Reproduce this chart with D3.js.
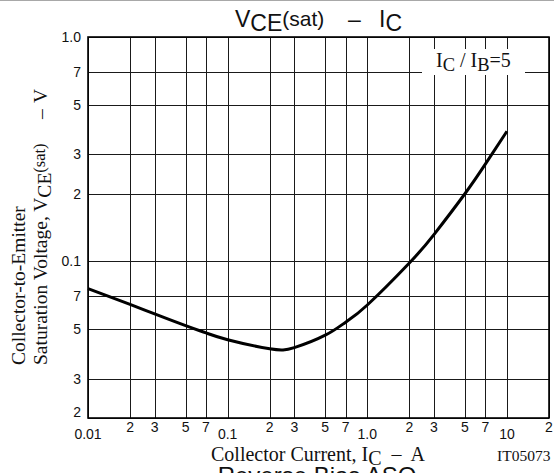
<!DOCTYPE html>
<html>
<head>
<meta charset="utf-8">
<script src="https://d3js.org/d3.v7.min.js"></script>
<style>
  body { margin: 0; background: #fff; }
  svg { display: block; }
  text { white-space: pre; }
  .sans { font-family: "Liberation Sans", Arial, sans-serif; }
  .serif { font-family: "Liberation Serif", "Times New Roman", serif; }
</style>
</head>
<body>
<div id="chart"></div>
<script>
// collector current (A) and saturation voltage (V)
const icValues  = [0.01, 0.02, 0.03, 0.05, 0.07, 0.1, 0.2, 0.3, 0.5, 0.7, 1.0, 2, 3, 5, 7, 10];
const vceValues = [0.0755, 0.0642, 0.0582, 0.0516, 0.0479, 0.0447, 0.0407, 0.0412, 0.0468, 0.0535, 0.0638, 0.0982, 0.1315, 0.2, 0.271, 0.38];

const xTicks = [0.01, 0.02, 0.03, 0.05, 0.07, 0.1, 0.2, 0.3, 0.5, 0.7, 1, 2, 3, 5, 7, 10, 20];
const xTickLabels = ["0.01", "2", "3", "5", "7", "0.1", "2", "3", "5", "7", "1.0", "2", "3", "5", "7", "10", "2"];
const yTicks = [1.0, 0.7, 0.5, 0.3, 0.2, 0.1, 0.07, 0.05, 0.03, 0.02];
const yTickLabels = ["1.0", "7", "5", "3", "2", "0.1", "7", "5", "3", "2"];

const W = 554, H = 473;
const plot = {left: 88, right: 549, top: 37, bottom: 418};

const svg = d3.select("#chart").append("svg")
    .attr("width", W)
    .attr("height", H);

// thin grey rule along the very top of the page
svg.append("line")
    .attr("x1", 0).attr("x2", W).attr("y1", 0.5).attr("y2", 0.5)
    .attr("stroke", "#a8a8a8").attr("stroke-width", 1.2);

const x = d3.scaleLog().domain([0.01, 20]).range([plot.left, plot.right]);
const y = d3.scaleLog().domain([0.02, 1.0]).range([plot.bottom, plot.top]);

const isDecade = v => Math.abs(Math.log10(v) - Math.round(Math.log10(v))) < 1e-9;

// grid
const grid = svg.append("g").attr("stroke", "#1a1a1a").attr("stroke-width", 1)
    .attr("shape-rendering", "crispEdges");
grid.selectAll(".vx").data(xTicks).join("line")
    .attr("x1", d => Math.round(x(d)) + 0.5).attr("x2", d => Math.round(x(d)) + 0.5)
    .attr("y1", plot.top).attr("y2", plot.bottom);
grid.selectAll(".hy").data(yTicks).join("line")
    .attr("y1", d => Math.round(y(d)) + 0.5).attr("y2", d => Math.round(y(d)) + 0.5)
    .attr("x1", plot.left).attr("x2", plot.right);

// label box hides the grid behind it
svg.append("rect")
    .attr("x", 422).attr("y", 49).attr("width", 103).attr("height", 26)
    .attr("fill", "#fff");
const note = svg.append("text").attr("class", "serif")
    .attr("x", 436).attr("y", 67).attr("font-size", 20).attr("fill", "#111");
note.append("tspan").text("I");
note.append("tspan").attr("font-size", 18.5).attr("dy", 4).text("C");
note.append("tspan").attr("dy", -4).text(" / I");
note.append("tspan").attr("font-size", 18.5).attr("dy", 4).text("B");
note.append("tspan").attr("dy", -4).text("=5");

// frame
svg.append("rect")
    .attr("x", plot.left).attr("y", plot.top)
    .attr("width", plot.right - plot.left).attr("height", plot.bottom - plot.top)
    .attr("fill", "none").attr("stroke", "#000").attr("stroke-width", 1.6);

// curve
const pts = icValues.map((v, i) => [v, vceValues[i]]);
const line = d3.line()
    .x(d => x(d[0]))
    .y(d => y(d[1]))
    .curve(d3.curveNatural);
svg.append("path")
    .datum(pts)
    .attr("d", line)
    .attr("fill", "none")
    .attr("stroke", "#000")
    .attr("stroke-width", 3)
    .attr("stroke-linecap", "butt");

// y tick labels
svg.append("g").attr("class", "sans").attr("font-size", 14).attr("fill", "#111")
  .selectAll("text").data(yTicks).join("text")
    .attr("x", 81)
    .attr("y", (d, i) => y(d) + (i === yTicks.length - 1 ? -1 : 5))
    .attr("text-anchor", "end")
    .text((d, i) => yTickLabels[i]);

// x tick labels
svg.append("g").attr("class", "sans").attr("font-size", 14).attr("fill", "#111")
  .selectAll("text").data(xTicks).join("text")
    .attr("x", d => x(d))
    .attr("y", d => isDecade(d) ? 439 : 432)
    .attr("text-anchor", "middle")
    .text((d, i) => xTickLabels[i]);

// title
const title = svg.append("text").attr("class", "sans")
    .attr("x", 235).attr("y", 27).attr("font-size", 23).attr("fill", "#111");
title.append("tspan").text("V");
title.append("tspan").attr("dy", 4).text("CE");
title.append("tspan").attr("dy", -5).attr("font-size", 21).text("(sat)");
title.append("tspan").attr("x", 348).attr("dy", 1).text("–");
title.append("tspan").attr("x", 379).text("I");
title.append("tspan").attr("dy", 4).text("C");

// y axis title (two lines)
svg.append("text").attr("class", "serif")
    .attr("transform", "translate(25,365) rotate(-90)")
    .attr("font-size", 19.5).attr("fill", "#111")
    .text("Collector-to-Emitter");
const yl2 = svg.append("text").attr("class", "serif")
    .attr("transform", "translate(47,365) rotate(-90)")
    .attr("font-size", 19.5).attr("fill", "#111");
yl2.append("tspan").text("Saturation Voltage, V");
yl2.append("tspan").attr("dy", 4).text("CE");
yl2.append("tspan").attr("dy", -6).attr("font-size", 16.5).text("(sat)");
yl2.append("tspan").attr("x", 246).attr("dy", 2).text("–");
yl2.append("tspan").attr("x", 262).text("V");

// x axis title
const xl = svg.append("text").attr("class", "serif")
    .attr("x", 211).attr("y", 461).attr("font-size", 20).attr("fill", "#111");
xl.append("tspan").text("Collector Current, I");
xl.append("tspan").attr("dy", 4).text("C");
xl.append("tspan").attr("dy", -4).text("  –  A");

svg.append("text").attr("class", "serif")
    .attr("x", 497).attr("y", 461).attr("font-size", 15.5).attr("fill", "#111")
    .text("IT05073");

// next chart's title, cut off by the page edge
svg.append("text").attr("class", "sans")
    .attr("x", 317).attr("y", 484).attr("text-anchor", "middle")
    .attr("font-size", 24).attr("fill", "#111")
    .text("Reverse Bias ASO");
</script>
</body>
</html>
